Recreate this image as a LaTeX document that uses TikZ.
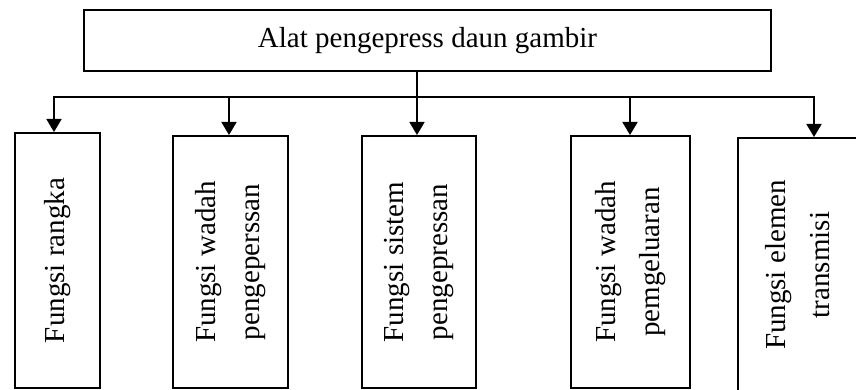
\documentclass[tikz,border=0pt]{standalone}
\usepackage{fontspec}
\setmainfont{Liberation Serif}
\usetikzlibrary{arrows.meta}

\begin{document}
\begin{tikzpicture}[x=1pt, y=-1pt,
  kotak/.style={draw, line width=2pt, inner sep=0pt, font=\fontsize{29}{44}\selectfont},
  fungsi/.style={kotak, rotate=90, align=center},
  garis/.style={line width=1.8pt},
  panah/.style={garis, -{Triangle[length=13pt,width=15pt]}}]

\useasboundingbox (0,0) rectangle (856,390);
\clip (0,0) rectangle (856,390);

\node[kotak, minimum width=687pt, minimum height=61pt] (alat) at (427.5,40.5) {Alat pengepress daun gambir};

\node[fungsi, minimum width=255pt, minimum height=85pt] (F1) at (57.5,260.5) {Fungsi rangka};
\node[fungsi, minimum width=252pt, minimum height=115pt] (F2) at (230.5,262) {Fungsi wadah\\pengeperssan};
\node[fungsi, minimum width=252pt, minimum height=114pt] (F3) at (419,262) {Fungsi sistem\\pengepressan};
\node[fungsi, minimum width=252pt, minimum height=119pt] (F4) at (630.5,262) {Fungsi wadah\\pemgeluaran};
\node[fungsi, minimum width=254pt, minimum height=120pt] (F5) at (798,265) {Fungsi elemen\\transmisi};

\coordinate (b1) at (54,97);
\coordinate (b2) at (229,97);
\coordinate (b3) at (417,97);
\coordinate (b4) at (630,97);
\coordinate (b5) at (814,97);

\draw[panah] (b3) -- (b1) -- (b1 |- F1.east);
\draw[panah] (b3) -- (b5) -- (b5 |- F5.east);
\draw[panah] (b2) -- (b2 |- F2.east);
\draw[panah] (alat.south -| b3) -- (b3 |- F3.east);
\draw[panah] (b4) -- (b4 |- F4.east);

\end{tikzpicture}
\end{document}
